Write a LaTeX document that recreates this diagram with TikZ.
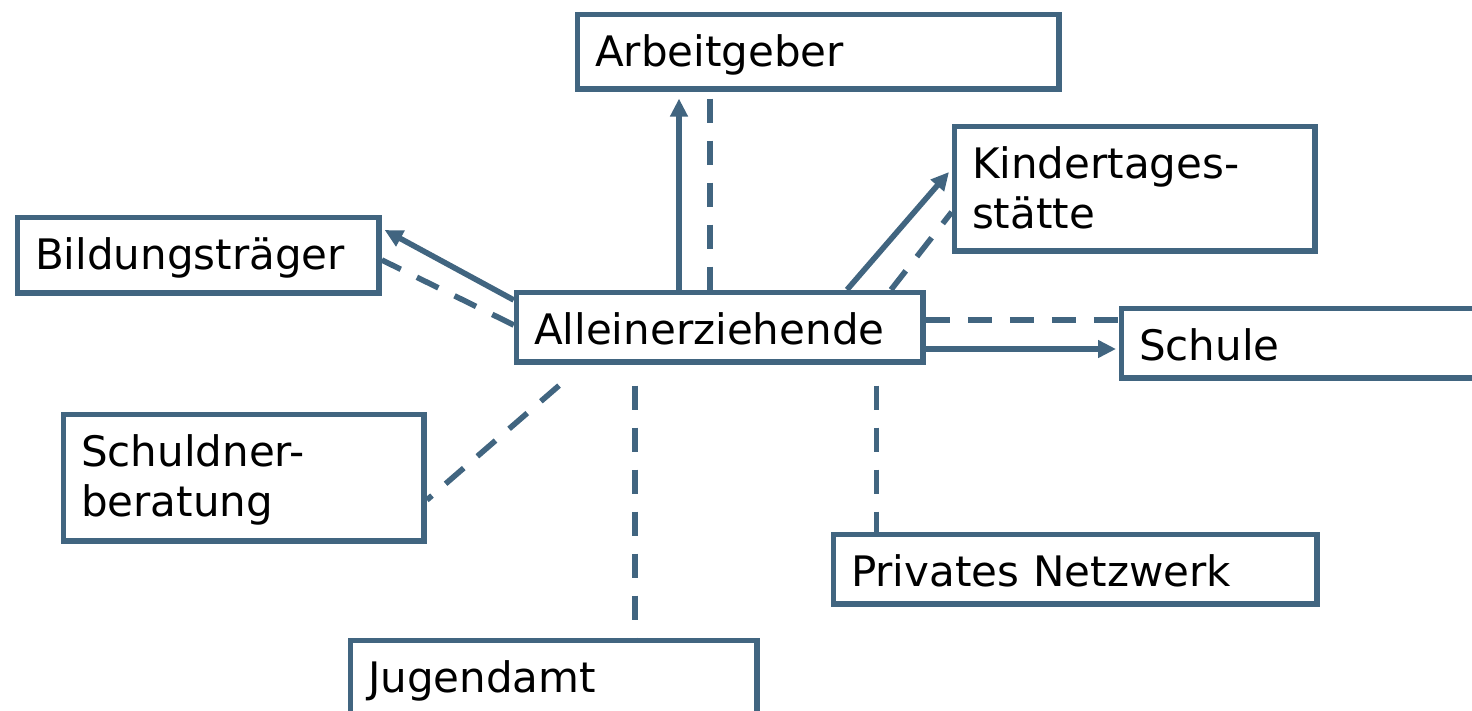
\documentclass[tikz,border=0pt]{standalone}
\usepackage{fontspec}
\setmainfont{DejaVu Sans}
\usetikzlibrary{arrows.meta,calc}
\definecolor{linec}{RGB}{65,101,128}
\begin{document}
\begin{tikzpicture}[x=0.5pt,y=-0.5pt,
  box/.style={draw=linec, line width=2.8pt, anchor=north west, inner xsep=8.75pt, inner ysep=0pt,
    align=left, text height=25.9pt, font=\fontsize{21pt}{25pt}\selectfont},
  link/.style={draw=linec, line width=2.8pt},
  dashlink/.style={link, dash pattern=on 12pt off 9pt},
  arrowlink/.style={link, -{Triangle[length=9pt,width=8.5pt]}}
]
\path[use as bounding box] (0,0) rectangle (1472,711);
\clip (0,0) rectangle (1472,711);

\node[box, text width=223.25pt, text depth=11.35pt] (arb) at (574.75,11.75) {Arbeitgeber};
\node[box, text width=162.75pt, text depth=36.35pt] (kita) at (951.75,123.75) {Kindertages-\\stätte};
\node[box, text width=163.25pt, text depth=11.85pt] (bild) at (14.75,214.75) {Bildungsträger};
\node[box, text width=185.75pt, text depth=8.85pt] (allein) at (513.75,289.75) {Alleinerziehende};
\node[box, text width=189.75pt, text depth=8.85pt] (schule) at (1118.75,305.75) {Schule};
\node[box, text width=162.75pt, text depth=37.35pt] (schuld) at (60.75,411.75) {Schuldner-\\beratung};
\node[box, text width=224.25pt, text depth=8.85pt] (priv) at (830.75,531.75) {Privates Netzwerk};
\node[box, text width=185.75pt, text depth=21.35pt] (jug) at (347.75,637.75) {Jugendamt};

% Arbeitgeber
\draw[arrowlink] ($(allein.north west)+(165.25,0)$) -- ($(arb.south west)+(104.25,6.75)$);
\draw[dashlink] ($(arb.south west)+(135.25,6.75)$) -- ($(allein.north west)+(196.25,0)$);
% Kindertagesstaette
\draw[arrowlink] ($(allein.north west)+(333.25,0)$) -- ($(kita.north west)+(-2.75,48.25)$);
\draw[dashlink] ($(allein.north west)+(377.25,0)$) -- ($(kita.north west)+(0,88.25)$);
% Bildungstraeger
\draw[arrowlink] ($(allein.north west)+(0,10.25)$) -- ($(bild.north east)+(2.75,15.25)$);
\draw[dashlink] ($(allein.north west)+(0,35.25)$) -- ($(bild.north east)+(0,45.25)$);
% Schuldnerberatung
\draw[dashlink] ($(allein.south west)+(45.25,20.75)$) -- ($(schuld.north east)+(0,88.25)$);
% Jugendamt
\draw[dashlink] ($(allein.south west)+(121.25,20.75)$) -- ($(jug.north west)+(287.25,0)$);
% Privates Netzwerk
\draw[dashlink] ($(allein.south west)+(362.75,20.75)$) -- ($(priv.north west)+(45.75,0)$);
% Schule
\draw[dashlink] ($(allein.north east)+(0,30.25)$) -- ($(schule.north west)+(0,14.25)$);
\draw[arrowlink] ($(allein.north east)+(0,59.25)$) -- ($(schule.north west)+(-2.75,43.25)$);
\end{tikzpicture}
\end{document}
